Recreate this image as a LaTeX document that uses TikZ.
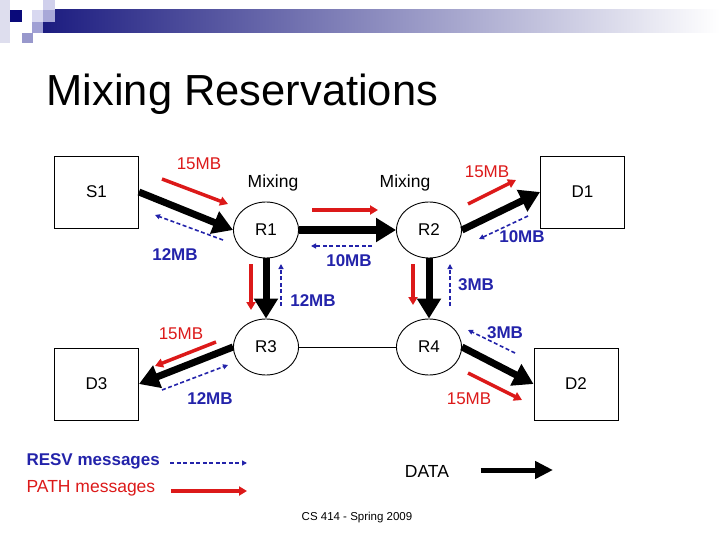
\documentclass[tikz,border=0pt]{standalone}
\usepackage{fontspec}
\setmainfont{Liberation Sans}
\usetikzlibrary{arrows.meta,shapes.geometric}

\definecolor{pathred}{RGB}{220,25,25}
\definecolor{resvblue}{RGB}{35,35,170}
\definecolor{barnavy}{RGB}{28,28,128}

\tikzset{
  box/.style={draw,line width=0.9pt,minimum width=84pt,minimum height=72pt,font=\fontsize{17}{20}\selectfont},
  router/.style={draw,ellipse,line width=0.9pt,minimum width=65pt,minimum height=56pt,inner sep=0pt,font=\fontsize{17}{20}\selectfont},
  data/.style={line width=7pt,-{Triangle[length=20pt,width=23pt]}},
  pathmsg/.style={pathred,line width=3.5pt,-{Triangle[length=8pt,width=9pt]}},
  resvmsg/.style={resvblue,line width=1.6pt,dash pattern=on 4pt off 2.5pt,-{Triangle[length=5pt,width=5pt]}},
  redlbl/.style={text=pathred,font=\fontsize{17}{20}\selectfont},
  bluelbl/.style={text=resvblue,font=\fontsize{17}{20}\selectfont\bfseries},
  plainlbl/.style={font=\fontsize{17.5}{20}\selectfont}
}

\begin{document}
\begin{tikzpicture}[x=1pt,y=-1pt]
    \useasboundingbox (0,0) rectangle (720,540);

    % header bar
    \shade[left color=barnavy,middle color={rgb,255:red,165;green,165;blue,185},right color=white] (43,10) rectangle (720,33);
    \fill[color={rgb,255:red,222;green,222;blue,238}] (0,0) rectangle (10,43);
    \fill[color={rgb,255:red,10;green,10;blue,122}] (10,10) rectangle (22,22);
    \fill[color={rgb,255:red,216;green,216;blue,240}] (32,10) rectangle (43,22);
    \fill[color={rgb,255:red,208;green,208;blue,236}] (43,0) rectangle (55,10);
    \fill[color={rgb,255:red,168;green,168;blue,216}] (43,10) rectangle (55,22);
    \fill[color={rgb,255:red,160;green,160;blue,212}] (32,22) rectangle (43,33);
    \fill[color={rgb,255:red,152;green,152;blue,204}] (22,33) rectangle (33,43);

    \node[anchor=base west,font=\fontsize{43.5}{50}\selectfont] (title) at (43,106) {Mixing Reservations};

    % hosts and routers
    \node[box] (s1) at (96.5,192) {S1};
    \node[box] (d1) at (582.5,192) {D1};
    \node[box] (d3) at (96.5,384) {D3};
    \node[box] (d2) at (576,384) {D2};
    \node[router] (r1) at (266,230) {R1};
    \node[router] (r2) at (429,230) {R2};
    \node[router] (r3) at (266,347) {R3};
    \node[router] (r4) at (429,347) {R4};

    \node[plainlbl] (mix1) at (273,183) {Mixing};
    \node[plainlbl] (mix2) at (405,183) {Mixing};

    % data flow
    \draw[data] (s1.east) -- (r1.west);
    \draw[data] (r1.east) -- (r2.west);
    \draw[data] (r2.east) -- (d1.west);
    \draw[data] (r1.south) -- (r3.north);
    \draw[data] (r2.south) -- (r4.north);
    \draw[data] (r3.west) -- (d3.east);
    \draw[data] (r4.east) -- (d2.west);
    \draw[line width=0.9pt] (r3.east) -- (r4.west);

    % PATH messages
    \coordinate (pa1) at (162,179);
    \coordinate (pa2) at (228,204);
    \coordinate (pb1) at (312,210);
    \coordinate (pb2) at (378,210);
    \coordinate (pc1) at (468,204);
    \coordinate (pc2) at (516,180);
    \coordinate (pd1) at (251,264);
    \coordinate (pd2) at (251,310);
    \coordinate (pe1) at (413,264);
    \coordinate (pe2) at (413,305);
    \coordinate (pf1) at (216,342);
    \coordinate (pf2) at (155,366);
    \coordinate (pg1) at (468,373);
    \coordinate (pg2) at (522,400);
    \draw[pathmsg] (pa1) -- (pa2);
    \draw[pathmsg] (pb1) -- (pb2);
    \draw[pathmsg] (pc1) -- (pc2);
    \draw[pathmsg] (pd1) -- (pd2);
    \draw[pathmsg] (pe1) -- (pe2);
    \draw[pathmsg] (pf1) -- (pf2);
    \draw[pathmsg] (pg1) -- (pg2);

    % RESV messages
    \coordinate (ra1) at (223,240);
    \coordinate (ra2) at (155,215);
    \coordinate (rb1) at (372,246);
    \coordinate (rb2) at (311,246);
    \coordinate (rc1) at (528,216);
    \coordinate (rc2) at (479,239);
    \coordinate (rd1) at (281,306);
    \coordinate (rd2) at (281,264);
    \coordinate (re1) at (450,306);
    \coordinate (re2) at (450,264);
    \coordinate (rf1) at (162,390);
    \coordinate (rf2) at (228,365);
    \coordinate (rg1) at (515,353);
    \coordinate (rg2) at (468,330);
    \draw[resvmsg] (ra1) -- (ra2);
    \draw[resvmsg] (rb1) -- (rb2);
    \draw[resvmsg] (rc1) -- (rc2);
    \draw[resvmsg] (rd1) -- (rd2);
    \draw[resvmsg] (re1) -- (re2);
    \draw[resvmsg] (rf1) -- (rf2);
    \draw[resvmsg] (rg1) -- (rg2);

    % bandwidth labels
    \node[redlbl] (pathS1) at (199,164) {15MB};
    \node[redlbl] (pathD1) at (487,172) {15MB};
    \node[redlbl] (pathD3) at (181,334) {15MB};
    \node[redlbl] (pathD2) at (469,399) {15MB};
    \node[bluelbl] (resvS1) at (175,255) {12MB};
    \node[bluelbl] (resvR12) at (349,261) {10MB};
    \node[bluelbl] (resvD1) at (522,237) {10MB};
    \node[bluelbl] (resvR13) at (313,301) {12MB};
    \node[bluelbl] (resvR24) at (476,285) {3MB};
    \node[bluelbl] (resvD3) at (210,399) {12MB};
    \node[bluelbl] (resvD2) at (505,333) {3MB};

    % legend
    \node[bluelbl,anchor=west] (resvtxt) at (23,461) {RESV messages};
    \node[redlbl,anchor=west,font=\fontsize{17.5}{20}\selectfont] (pathtxt) at (23,488) {PATH messages};
    \node[plainlbl] (datatxt) at (427,471) {DATA};
    \coordinate (resvend) at (247,463);
    \coordinate (pathend) at (247,491);
    \coordinate (dataend) at (553,470);
    \draw[resvmsg] ([xshift=7pt,yshift=-2pt]resvtxt.east) -- (resvend);
    \draw[pathmsg] ([xshift=12pt,yshift=-3pt]pathtxt.east) -- (pathend);
    \draw[line width=5pt,-{Triangle[length=18pt,width=17pt]}] ([xshift=28pt,yshift=1pt]datatxt.east) -- (dataend);

    \node[font=\fontsize{11.5}{14}\selectfont] (footer) at (357,518) {CS 414 - Spring 2009};
\end{tikzpicture}
\end{document}
